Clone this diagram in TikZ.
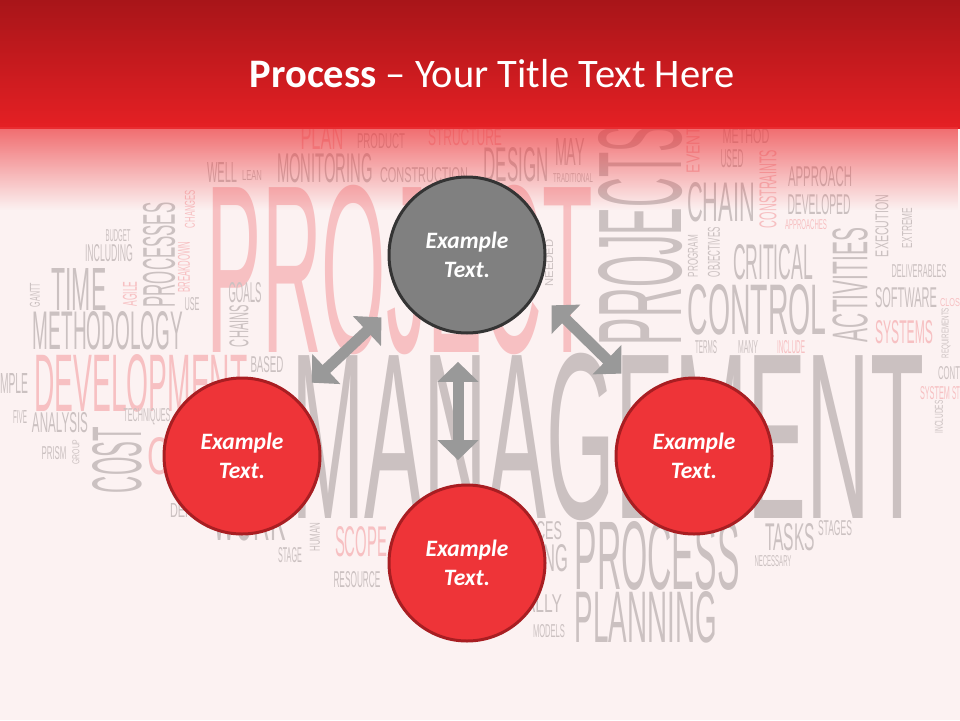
\documentclass[tikz,border=0pt]{standalone}
\usepackage{fontspec}
\usepackage{graphicx}
\usetikzlibrary{arrows.meta,calc,fadings}

\newfontfamily\titlefont{Carlito}
\newfontfamily\cloudfont{Liberation Sans}

\definecolor{slidebg}{RGB}{252,242,242}
\definecolor{headtop}{RGB}{168,21,25}
\definecolor{headbot}{RGB}{229,32,36}
\definecolor{fadered}{RGB}{236,50,54}
\definecolor{cloudgray}{RGB}{203,193,193}
\definecolor{cloudpink}{RGB}{247,192,194}
\definecolor{circred}{RGB}{238,52,56}
\definecolor{circborder}{RGB}{168,30,34}
\definecolor{greyfill}{RGB}{128,128,128}
\definecolor{greyborder}{RGB}{52,52,52}
\definecolor{arrowgrey}{RGB}{153,153,153}

% stretched word of the background cloud: width, height, text
\newcommand\cloudword[3]{\resizebox{#1pt}{#2pt}{\cloudfont #3}}

\tikzfading[name=fade_down, top color=transparent!30, middle color=transparent!85, bottom color=transparent!100]

\begin{document}
\begin{tikzpicture}[x=1pt,y=-1pt]
\tikzstyle{word} = [inner sep=0pt, text=cloudgray]
\tikzstyle{word_pink} = [word, text=cloudpink]
\tikzstyle{circ} = [circle, minimum size=156pt, inner sep=0pt, line width=3pt,
align=center, text=white, font=\titlefont\bfseries\itshape\fontsize{23.5}{29}\selectfont]
\tikzstyle{circ_red} = [circ, draw=circborder, fill=circred]
\tikzstyle{circ_grey} = [circ, draw=greyborder, fill=greyfill]
\tikzstyle{dblarrow} = [draw=arrowgrey, line width=11pt,
{Triangle[width=40pt,length=20pt]}-{Triangle[width=40pt,length=20pt]}]

\useasboundingbox (0,0) rectangle (960,720);
\clip (0,0) rectangle (960,720);
\fill[slidebg] (0,0) rectangle (960,720);

% big words
\node[word_pink] (w_project) at (400,270) {\cloudword{386}{167}{PROJECT}};
\node[word] (w_management) at (608,437) {\cloudword{633}{165}{MANAGEMENT}};
\node[word, rotate=90] (w_projects) at (641,235) {\cloudword{220}{83}{PROJECTS}};
\node[word_pink] (w_development) at (141,383) {\cloudword{213}{57}{DEVELOPMENT}};
\node[word] (w_process) at (657,556) {\cloudword{165}{68}{PROCESS}};
\node[word] (w_planning) at (646,617) {\cloudword{142}{51}{PLANNING}};
\node[word] (w_control) at (757,310) {\cloudword{139}{50}{CONTROL}};
\node[word] (w_methodology) at (108,331) {\cloudword{150}{38}{METHODOLOGY}};

% left part
\node[word] (w_time) at (79,289) {\cloudword{55}{42}{TIME}};
\node[word, rotate=90] (w_gantt) at (35,295) {\cloudword{24}{10}{GANTT}};
\node[word] (w_including) at (109,253) {\cloudword{48}{17}{INCLUDING}};
\node[word] (w_budget) at (118,236) {\cloudword{25}{12}{BUDGET}};
\node[word_pink, rotate=90] (w_agile) at (130,294) {\cloudword{25}{14}{AGILE}};
\node[word, rotate=90] (w_processes) at (159,255) {\cloudword{105}{32}{PROCESSES}};
\node[word_pink, rotate=90] (w_breakdown) at (184,267) {\cloudword{51}{12}{BREAKDOWN}};
\node[word_pink, rotate=90] (w_changes) at (190,209) {\cloudword{38}{10}{CHANGES}};
\node[word] (w_use) at (192,304) {\cloudword{15}{13}{USE}};
\node[word] (w_goals) at (245,293) {\cloudword{33}{20}{GOALS}};
\node[word, rotate=90] (w_chains) at (239,326) {\cloudword{42}{19}{CHAINS}};
\node[word] (w_based) at (267,365) {\cloudword{33}{16}{BASED}};
\node[word] (w_mple) at (14,383) {\cloudword{28}{20}{MPLE}};
\node[word] (w_five) at (20,417) {\cloudword{14}{13}{FIVE}};
\node[word] (w_analysis) at (60,423) {\cloudword{56}{20}{ANALYSIS}};
\node[word] (w_techniques) at (147,417) {\cloudword{47}{13}{TECHNIQUES}};
\node[word] (w_prism) at (54,453) {\cloudword{25}{13}{PRISM}};
\node[word, rotate=90] (w_group) at (76,452) {\cloudword{25}{7}{GROUP}};
\node[word, rotate=90] (w_cost) at (117,460) {\cloudword{66}{49}{COST}};
\node[word_pink] (w_co) at (171,456) {\cloudword{48}{37}{CO}};
\node[word] (w_define) at (190,510) {\cloudword{40}{14}{DEFINE}};
\node[word] (w_work) at (250,518) {\cloudword{72}{45}{WORK}};

% bottom part
\node[word] (w_stage) at (290,555) {\cloudword{24}{15}{STAGE}};
\node[word, rotate=90] (w_human) at (315,537) {\cloudword{29}{10}{HUMAN}};
\node[word_pink] (w_scope) at (361,542) {\cloudword{52}{30}{SCOPE}};
\node[word] (w_resource) at (357,580) {\cloudword{47}{16}{RESOURCE}};
\node[word] (w_resources) at (522,531) {\cloudword{80}{18}{RESOURCES}};
\node[word] (w_managing) at (523,558) {\cloudword{90}{27}{MANAGING}};
\node[word] (w_usually) at (527,604) {\cloudword{70}{18}{USUALLY}};
\node[word] (w_models) at (549,631) {\cloudword{32}{13}{MODELS}};
\node[word] (w_tasks) at (790,537) {\cloudword{50}{27}{TASKS}};
\node[word] (w_stages) at (835,528) {\cloudword{34}{15}{STAGES}};
\node[word] (w_necessary) at (773,561) {\cloudword{37}{11}{NECESSARY}};

% top part
\node[word_pink] (w_plan) at (322,137) {\cloudword{43}{25}{PLAN}};
\node[word] (w_product) at (381,141) {\cloudword{48}{15}{PRODUCT}};
\node[word_pink] (w_structure) at (465,137) {\cloudword{74}{17}{STRUCTURE}};
\node[word] (w_well) at (222,172) {\cloudword{30}{20}{WELL}};
\node[word] (w_lean) at (252,175) {\cloudword{20}{10}{LEAN}};
\node[word] (w_monitoring) at (325,168) {\cloudword{96}{29}{MONITORING}};
\node[word] (w_construction) at (424,175) {\cloudword{88}{15}{CONSTRUCTION}};
\node[word] (w_design) at (516,165) {\cloudword{65}{34}{DESIGN}};
\node[word] (w_may) at (570,152) {\cloudword{30}{27}{MAY}};
\node[word] (w_traditional) at (573,178) {\cloudword{40}{9}{TRADITIONAL}};
\node[word, rotate=90] (w_needed) at (549,263) {\cloudword{47}{8}{NEEDED}};

% right part
\node[word_pink, rotate=90] (w_event) at (693,150) {\cloudword{46}{13}{EVENT}};
\node[word] (w_method) at (746,136) {\cloudword{47}{15}{METHOD}};
\node[word] (w_used) at (732,159) {\cloudword{23}{18}{USED}};
\node[word_pink, rotate=90] (w_constraints) at (768,189) {\cloudword{78}{17}{CONSTRAINTS}};
\node[word] (w_approach) at (820,177) {\cloudword{64}{20}{APPROACH}};
\node[word] (w_chain) at (721,202) {\cloudword{68}{39}{CHAIN}};
\node[word] (w_developed) at (819,205) {\cloudword{63}{20}{DEVELOPED}};
\node[word_pink] (w_approaches) at (806,225) {\cloudword{42}{10}{APPROACHES}};
\node[word, rotate=90] (w_execution) at (882,226) {\cloudword{62}{13}{EXECUTION}};
\node[word, rotate=90] (w_extreme) at (907,228) {\cloudword{40}{10}{EXTREME}};
\node[word, rotate=90] (w_program) at (693,256) {\cloudword{42}{10}{PROGRAM}};
\node[word, rotate=90] (w_objectives) at (714,252) {\cloudword{50}{12}{OBJECTIVES}};
\node[word] (w_critical) at (773,262) {\cloudword{80}{35}{CRITICAL}};
\node[word, rotate=90] (w_activities) at (850,285) {\cloudword{114}{35}{ACTIVITIES}};
\node[word] (w_deliverables) at (919,271) {\cloudword{55}{13}{DELIVERABLES}};
\node[word] (w_software) at (906,298) {\cloudword{62}{20}{SOFTWARE}};
\node[word_pink] (w_clos) at (950,303) {\cloudword{20}{8}{CLOS}};
\node[word_pink] (w_systems) at (904,332) {\cloudword{58}{23}{SYSTEMS}};
\node[word, rotate=90] (w_requirements) at (946,333) {\cloudword{50}{7}{REQUIREMENTS}};
\node[word] (w_terms) at (706,347) {\cloudword{22}{13}{TERMS}};
\node[word] (w_many) at (748,347) {\cloudword{20}{13}{MANY}};
\node[word_pink] (w_include) at (791,347) {\cloudword{28}{13}{INCLUDE}};
\node[word] (w_cont) at (949,373) {\cloudword{22}{13}{CONT}};
\node[word_pink] (w_system) at (935,393) {\cloudword{30}{13}{SYSTEM}};
\node[word_pink] (w_st) at (956,393) {\cloudword{8}{13}{ST}};
\node[word, rotate=90] (w_includes) at (939,417) {\cloudword{33}{8}{INCLUDES}};

% title bar
\fill[top color=headtop, bottom color=headbot] (0,0) rectangle (960,128);
\fill[fadered, path fading=fade_down] (0,127) rectangle (960,210);
\node[anchor=base, inner sep=0pt, text=white, font=\titlefont\fontsize{40.5}{48}\selectfont]
(title) at (492,87) {\textbf{Process} – Your Title Text Here};

% circles
\node [circ_grey] (circ_top) at (467,255) {Example\\Text.};
\node [circ_red] (circ_left) at (242,456) {Example\\Text.};
\node [circ_red] (circ_right) at (694,456) {Example\\Text.};
\node [circ_red] (circ_bottom) at (467,563) {Example\\Text.};

% arrows
\path[dblarrow] ($(circ_left)!0.31!(circ_top)+(0,-11)$) -- ($(circ_left)!0.62!(circ_top)+(0,-14)$);
\path[dblarrow] ($(circ_top)!0.347!(circ_bottom)+(-9,0)$) -- ($(circ_top)!0.666!(circ_bottom)+(-9,0)$);
\path[dblarrow] ($(circ_top)!0.32!(circ_right)+(12,-14)$) -- ($(circ_top)!0.64!(circ_right)+(9,-10)$);

\end{tikzpicture}
\end{document}
